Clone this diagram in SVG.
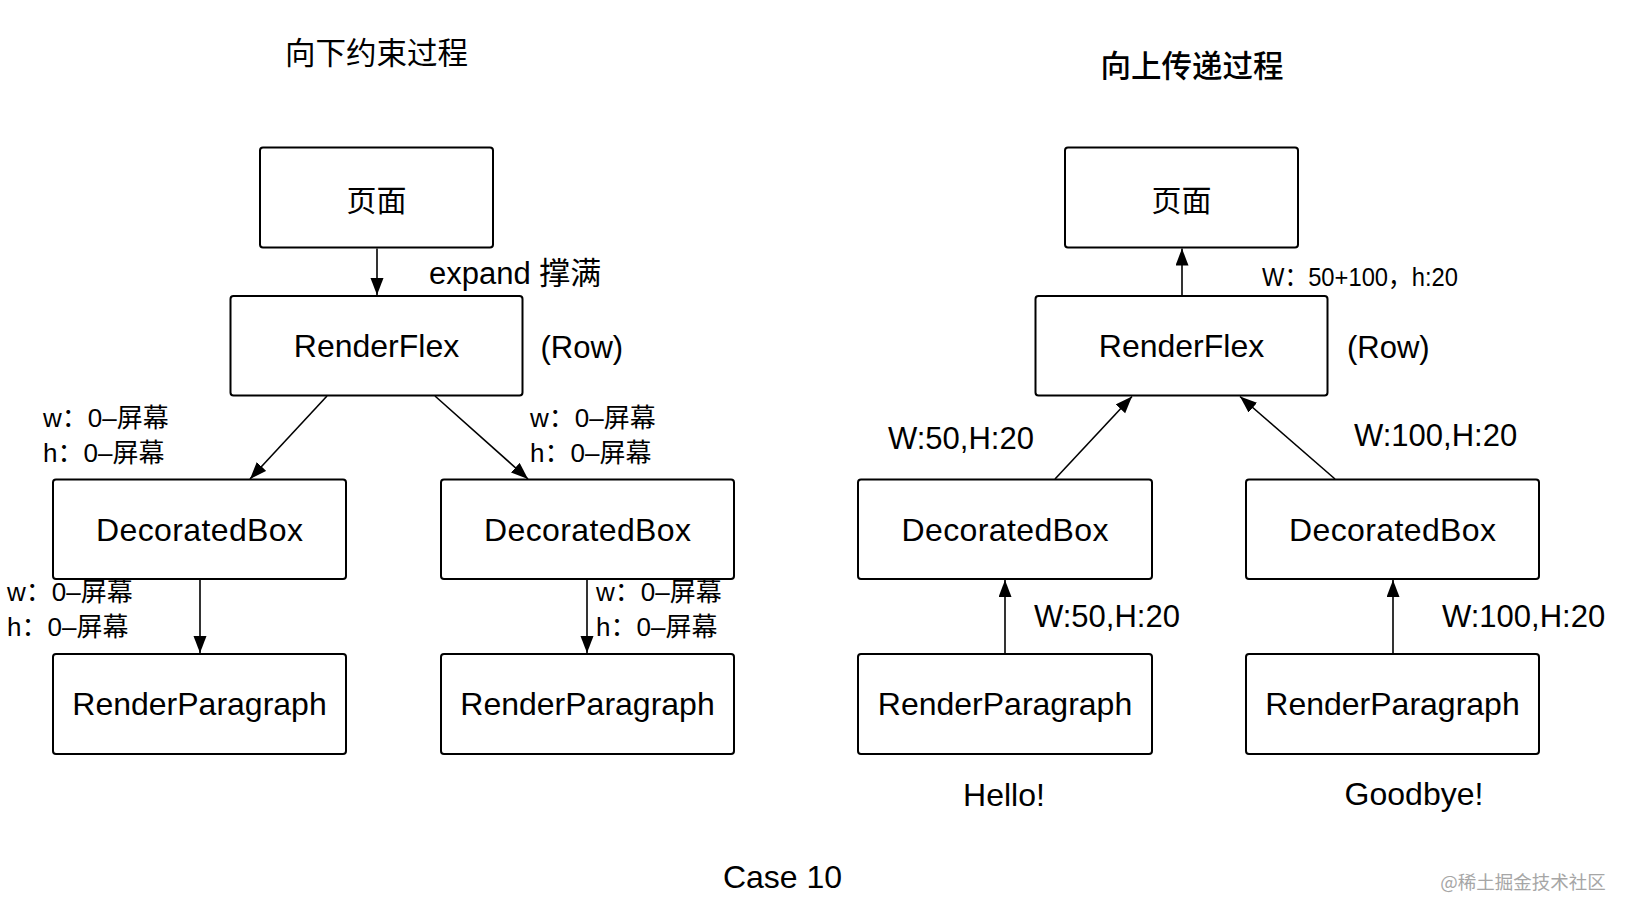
<svg xmlns="http://www.w3.org/2000/svg" width="1626" height="916" viewBox="0 0 1626 916">
<style>
.box{fill:#fff;stroke:#000;stroke-width:2}
.lbl{font-family:"Liberation Sans","Noto Sans CJK SC",sans-serif;font-size:32px;fill:#000;text-anchor:middle}
.cjk{font-family:"Noto Sans CJK SC","Liberation Sans",sans-serif;fill:#000}
.ann{font-family:"Liberation Sans","Noto Sans CJK SC",sans-serif;font-size:26px;fill:#000}
.big{font-family:"Liberation Sans","Noto Sans CJK SC",sans-serif;font-size:31px;fill:#000}
.edge{stroke:#000;stroke-width:1.6;fill:none;marker-end:url(#arr)}
</style>
<defs>
<marker id="arr" markerUnits="userSpaceOnUse" markerWidth="18" markerHeight="14" refX="17" refY="6.5" orient="auto">
<path d="M0,0 L17,6.5 L0,13 z" fill="#000"/>
</marker>
</defs>
<rect width="1626" height="916" fill="#fff"/>
<text class="cjk" x="376.5" y="64" font-size="30.5" text-anchor="middle">向下约束过程</text>
<text class="cjk" x="1192" y="77" font-size="30.5" font-weight="500" text-anchor="middle">向上传递过程</text>

<g id="L-page"><rect class="box" x="260" y="147.5" width="233" height="100" rx="3"/><text class="cjk" x="376.5" y="210.5" font-size="30" text-anchor="middle">页面</text></g>
<g id="L-flex"><rect class="box" x="230.5" y="296" width="292" height="99.5" rx="3"/><text class="lbl" x="376.5" y="357">RenderFlex</text></g>
<g id="L-db1"><rect class="box" x="53" y="479.5" width="293" height="99.5" rx="3"/><text class="lbl" x="199.5" y="540.5" textLength="207" lengthAdjust="spacing">DecoratedBox</text></g>
<g id="L-db2"><rect class="box" x="441" y="479.5" width="293" height="99.5" rx="3"/><text class="lbl" x="587.5" y="540.5" textLength="207" lengthAdjust="spacing">DecoratedBox</text></g>
<g id="L-rp1"><rect class="box" x="53" y="654" width="293" height="100" rx="3"/><text class="lbl" x="199.5" y="715">RenderParagraph</text></g>
<g id="L-rp2"><rect class="box" x="441" y="654" width="293" height="100" rx="3"/><text class="lbl" x="587.5" y="715">RenderParagraph</text></g>

<g id="R-page"><rect class="box" x="1065" y="147.5" width="233" height="100" rx="3"/><text class="cjk" x="1181.5" y="210.5" font-size="30" text-anchor="middle">页面</text></g>
<g id="R-flex"><rect class="box" x="1035.5" y="296" width="292" height="99.5" rx="3"/><text class="lbl" x="1181.5" y="357">RenderFlex</text></g>
<g id="R-db1"><rect class="box" x="858" y="479.5" width="294" height="99.5" rx="3"/><text class="lbl" x="1005" y="540.5" textLength="207" lengthAdjust="spacing">DecoratedBox</text></g>
<g id="R-db2"><rect class="box" x="1246" y="479.5" width="293" height="99.5" rx="3"/><text class="lbl" x="1392.5" y="540.5" textLength="207" lengthAdjust="spacing">DecoratedBox</text></g>
<g id="R-rp1"><rect class="box" x="858" y="654" width="294" height="100" rx="3"/><text class="lbl" x="1005" y="715">RenderParagraph</text></g>
<g id="R-rp2"><rect class="box" x="1246" y="654" width="293" height="100" rx="3"/><text class="lbl" x="1392.5" y="715">RenderParagraph</text></g>

<g id="connectors">
<line class="edge" x1="377" y1="248.5" x2="377" y2="295"/>
<line class="edge" x1="327" y1="396" x2="250" y2="479"/>
<line class="edge" x1="435" y1="396" x2="528" y2="479"/>
<line class="edge" x1="200" y1="580" x2="200" y2="653"/>
<line class="edge" x1="587" y1="580" x2="587" y2="653"/>
<line class="edge" x1="1182" y1="295" x2="1182" y2="248.5"/>
<line class="edge" x1="1055" y1="479" x2="1132" y2="396.5"/>
<line class="edge" x1="1335" y1="479" x2="1240" y2="396.5"/>
<line class="edge" x1="1005" y1="653" x2="1005" y2="580"/>
<line class="edge" x1="1393" y1="653" x2="1393" y2="580"/>
</g>

<g id="labels">
<text class="big" x="429" y="284" font-size="29">expand 撑满</text>
<text class="big" x="540.5" y="358" font-size="29">(Row)</text>
<text class="ann" x="43" y="427">w：0–屏幕</text>
<text class="ann" x="43" y="462">h：0–屏幕</text>
<text class="ann" x="530" y="427">w：0–屏幕</text>
<text class="ann" x="530" y="462">h：0–屏幕</text>
<text class="ann" x="7" y="601">w：0–屏幕</text>
<text class="ann" x="7" y="636">h：0–屏幕</text>
<text class="ann" x="596" y="601">w：0–屏幕</text>
<text class="ann" x="596" y="636">h：0–屏幕</text>
<text class="ann" x="1262" y="286" font-size="22" textLength="196" lengthAdjust="spacingAndGlyphs">W：50+100，h:20</text>
<text class="big" x="1347" y="358" font-size="28.5">(Row)</text>
<text class="big" x="888" y="449">W:50,H:20</text>
<text class="big" x="1354" y="446">W:100,H:20</text>
<text class="big" x="1034" y="627">W:50,H:20</text>
<text class="big" x="1442" y="627">W:100,H:20</text>
<text class="lbl" x="1004" y="806" font-size="31">Hello!</text>
<text class="lbl" x="1414" y="805" font-size="31">Goodbye!</text>
<text class="lbl" x="782.5" y="888" font-size="30">Case 10</text>
<text x="1523" y="889" font-family="Noto Sans CJK SC,sans-serif" font-size="18.5" fill="#a6a6a6" text-anchor="middle">@稀土掘金技术社区</text>
</g>
</svg>
